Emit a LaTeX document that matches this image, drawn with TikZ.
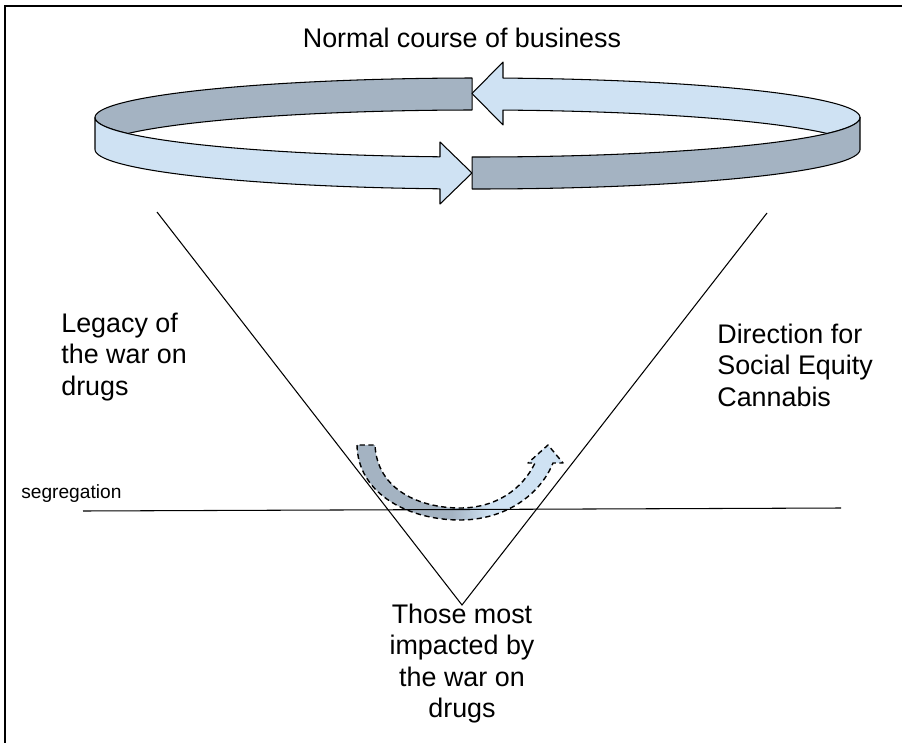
\documentclass[tikz,border=0pt]{standalone}
\usepackage{fontspec}
\setmainfont{Liberation Sans}
\usepackage{tikz}
\usetikzlibrary{arrows}

\definecolor{bandgray}{HTML}{A4B3C2}
\definecolor{bandblue}{HTML}{CFE2F3}
\pgfdeclarehorizontalshading{grayblue}{100bp}{color(0bp)=(bandgray); color(48bp)=(bandgray);
	color(57bp)=(bandblue); color(100bp)=(bandblue)}

\begin{document}
\begin{tikzpicture}[x=0.02cm,y=-0.02cm,
	band/.style={draw=black,line width=0.6pt,line join=round},
	rule/.style={line width=0.6pt},
	lbl/.style={inner sep=0pt,font=\fontsize{15.3}{17.9}\selectfont}]

	\useasboundingbox (0,0) rectangle (902,743);
	\draw[line width=1.1pt] (5,743) -- (5,6) -- (902,6);

	% ring: back half first, then the front half
	\filldraw[band,fill=bandgray]
		plot[domain=90.82:203.9,samples=60] ({477.5+382.5*cos(\x)},{117.5-39.5*sin(\x)})
		-- plot[domain=156.1:90.82,samples=60] ({477.5+382.5*cos(\x)},{149.5-39.5*sin(\x)})
		-- cycle;
	\filldraw[band,fill=bandblue]
		plot[domain=0:86.18,samples=60] ({477.5+382.5*cos(\x)},{117.5-39.5*sin(\x)})
		-- (503,62) -- (472,93.5) -- (503,125)
		-- plot[domain=86.18:23.9,samples=60] ({477.5+382.5*cos(\x)},{149.5-39.5*sin(\x)})
		-- plot[domain=336.1:360,samples=20] ({477.5+382.5*cos(\x)},{117.5-39.5*sin(\x)})
		-- cycle;
	\filldraw[band,fill=bandblue]
		(95,117.5) -- plot[domain=180:264.37,samples=60] ({477.5+382.5*cos(\x)},{149.5-39.5*sin(\x)})
		-- (440,204) -- (472,173) -- (440,142)
		-- plot[domain=264.37:180,samples=60] ({477.5+382.5*cos(\x)},{117.5-39.5*sin(\x)})
		-- cycle;
	\filldraw[band,fill=bandgray]
		plot[domain=269.18:360,samples=60] ({477.5+382.5*cos(\x)},{117.5-39.5*sin(\x)})
		-- plot[domain=360:269.18,samples=60] ({477.5+382.5*cos(\x)},{149.5-39.5*sin(\x)})
		-- cycle;

	\node[lbl,anchor=base] (title) at (462,47.5) {Normal course of business};

	% curved arrow across the line
	\draw[shading=grayblue,line width=0.8pt,dash pattern=on 3pt off 2pt,line join=round]
		(357,445) .. controls (358,495) and (410,520) .. (460,520)
		.. controls (505,520) and (540,495) .. (553,463)
		-- (563,463) -- (548,445) -- (528,463) -- (535,463)
		.. controls (522,490) and (495,508) .. (460,508)
		.. controls (420,508) and (377,490) .. (375,445) -- cycle;

	\coordinate (vl) at (157,212);
	\coordinate (apex) at (462,605);
	\coordinate (vr) at (767,213);
	\coordinate (segl) at (83,511);
	\coordinate (segr) at (841,508);
	\draw[rule] (vl) -- (apex) -- (vr);
	\draw[rule] (segl) -- (segr);

	\node[inner sep=0pt,anchor=base west,font=\fontsize{10.9}{13}\selectfont] (seg) at (21,498) {segregation};
	\node[lbl,anchor=north west,align=left] (legacy) at (61,312.5) {Legacy of\\the war on\\drugs};
	\node[lbl,anchor=north west,align=left] (direction) at (717,323.5) {Direction for\\Social Equity\\Cannabis};
	\node[lbl,anchor=north,align=center] (impacted) at (462,603.5) {Those most\\impacted by\\the war on\\drugs};
\end{tikzpicture}
\end{document}
